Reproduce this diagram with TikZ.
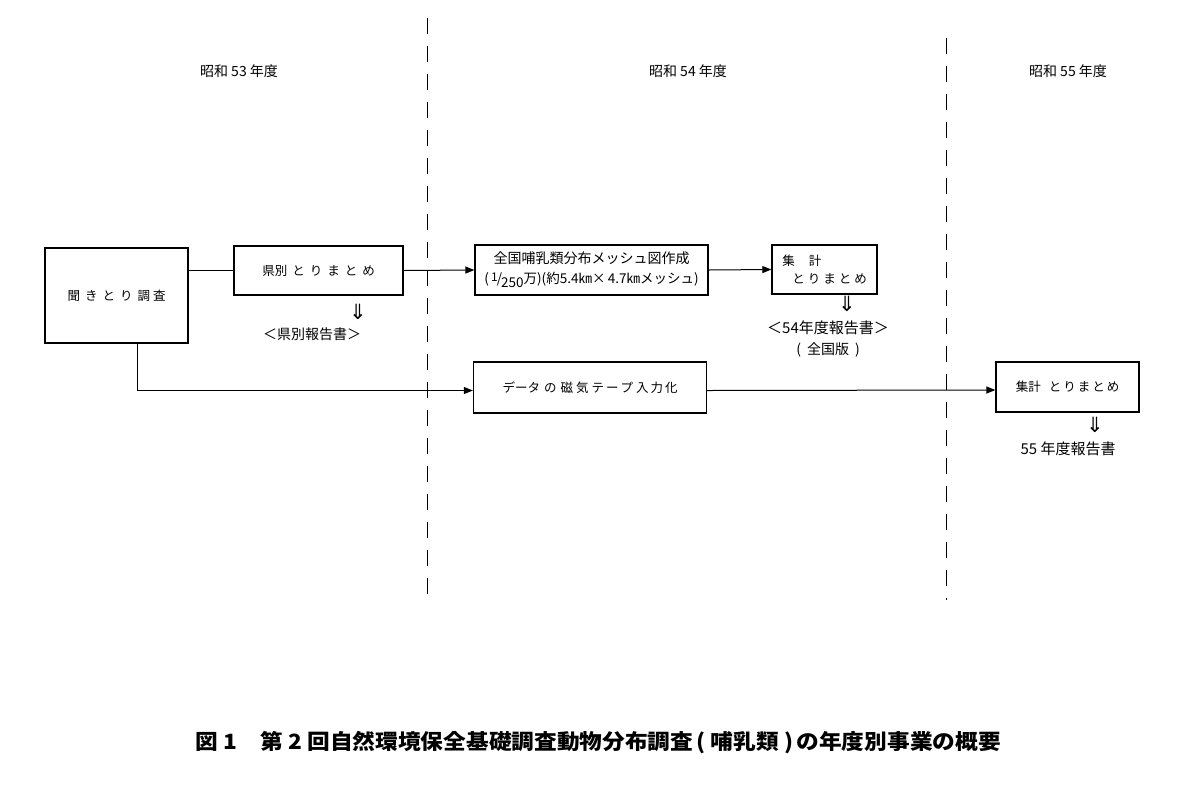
\documentclass[tikz,border=0pt]{standalone}
\usepackage{fontspec}
\newfontfamily\jp{Noto Sans CJK JP}
\newfontfamily\sym{DejaVu Sans}
\usetikzlibrary{arrows.meta}
\begin{document}
\begin{tikzpicture}[x=1pt,y=-1pt,
  box/.style={draw,line width=1.3pt,inner sep=0pt,font=\jp\fontsize{12.5}{17}\selectfont},
  conn/.style={line width=1pt},
  arr/.style={conn,-{Triangle[length=9pt,width=7pt]}},
  sep/.style={line width=0.9pt,dash pattern=on 16pt off 12pt},
  lbl/.style={inner sep=0pt,font=\jp\fontsize{14}{16}\selectfont},
  hdr/.style={inner sep=0pt,font=\jp\fontsize{14}{16}\selectfont},
  dn/.style={inner sep=0pt,font=\sym\fontsize{21}{21}\selectfont}]
\useasboundingbox (0,0) rectangle (1182,785);
% year headers
\node[hdr] (h53) at (239,71) {昭和 53 年度};
\node[hdr] (h54) at (688,71) {昭和 54 年度};
\node[hdr] (h55) at (1068,71) {昭和 55 年度};
% separators
\coordinate (d1t) at (427,18);
\coordinate (d1b) at (427,598);
\coordinate (d2t) at (946,38);
\coordinate (d2b) at (946,600);
\draw[sep] (d1t) -- (d1b);
\draw[sep] (d2t) -- (d2b);
% boxes
\node[box,minimum width=143pt,minimum height=95pt] (kiki) at (116.5,295.5) {聞\hspace{5pt}き\hspace{5pt}と\hspace{5pt}り\hspace{5pt}調\hspace{3pt}査};
\node[box,minimum width=169pt,minimum height=49pt] (ken) at (318.5,270.5) {県別\hspace{5pt}と\hspace{5pt}り\hspace{5pt}ま\hspace{5pt}と\hspace{5pt}め};
\node[box,minimum width=233pt,minimum height=50pt,align=center,font=\jp\fontsize{14}{16}\selectfont] (zen) at (591.5,270)
  {\raisebox{1pt}{全国哺乳類分布メッシュ図作成}\\[3pt]
   {\fontsize{13.5}{16}\selectfont(\,\raisebox{2.5pt}{\fontsize{12}{12}\selectfont 1}\kern-1pt/\kern-1pt\raisebox{-4pt}{250}万)(約5.4㎞×\,4.7㎞メッシュ)}};
\node[box,minimum width=105pt,minimum height=49pt,align=left] (shu) at (824.5,269.5)
  {集\hspace{14pt}計\\[1pt]\hspace{10pt}と\hspace{3pt}り\hspace{3pt}ま\hspace{3pt}と\hspace{3pt}め};
\node[box,minimum width=233pt,minimum height=51pt] (data) at (590,387.5)
  {データ\hspace{4pt}の\hspace{4pt}磁\hspace{3pt}気\hspace{3pt}テ\hspace{2pt}ー\hspace{2pt}プ\hspace{3pt}入\hspace{2pt}力\hspace{2pt}化};
\node[box,minimum width=143pt,minimum height=50pt] (shu2) at (1067.5,387) {集計\hspace{8pt}と\hspace{2pt}り\hspace{2pt}ま\hspace{2pt}と\hspace{2pt}め};
% report labels
\node[dn] (a1) at (358,312) {⇓};
\node[lbl] (r1) at (312,334) {＜県別報告書＞};
\node[dn] (a2) at (847,304) {⇓};
\node[lbl,font=\jp\fontsize{15}{16}\selectfont] (r2) at (828,328) {＜54年度報告書＞};
\node[lbl] (r3) at (828,350) {(\hspace{6pt}全国版\hspace{6pt})};
\node[dn] (a3) at (1095,425) {⇓};
\node[lbl,font=\jp\fontsize{15}{16}\selectfont] (r4) at (1068,449) {55 年度報告書};
% connectors
\draw[conn] (kiki.east |- ken.west) -- (ken.west);
\draw[arr] (ken.east) -- (zen.west);
\draw[arr] (zen.east) -- (shu.west);
\draw[arr] ([xshift=20.5pt]kiki.south) |- ([yshift=-3pt]data.west);
\draw[arr] ([yshift=-3pt]data.east) -- ([yshift=-3pt]shu2.west);
% caption
\node[inner sep=0pt,font=\jp\bfseries\fontsize{21}{24}\selectfont] (cap) at (598,743)
  {\scalebox{1.08}[1]{図 1\hspace{22pt}第 2 回自然環境保全基礎調査動物分布調査\hspace{3pt}(\hspace{5pt}哺乳類\hspace{5pt})\hspace{3pt}の年度別事業の概要}};
\end{tikzpicture}
\end{document}
